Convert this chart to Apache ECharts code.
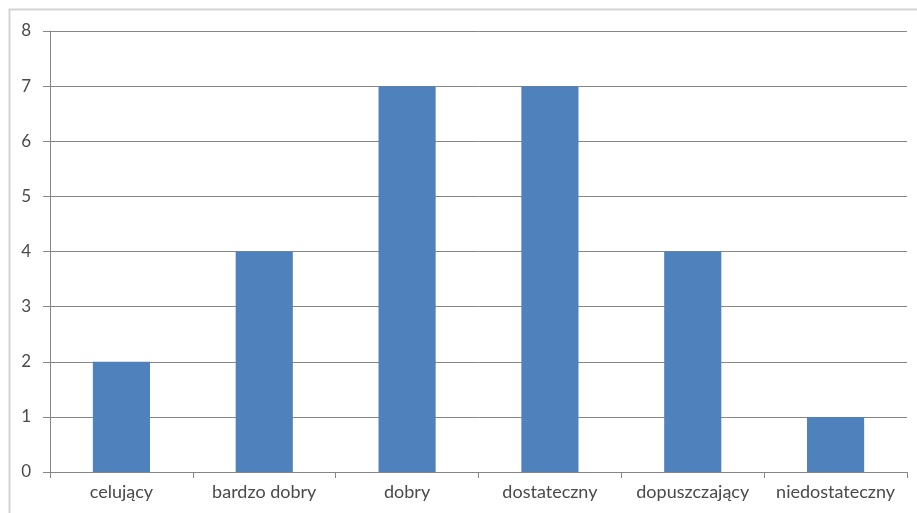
<!DOCTYPE html>
<html><head><meta charset="utf-8">
<script src="https://cdn.jsdelivr.net/npm/echarts@6/dist/echarts.min.js"></script>
<style>html,body{margin:0;padding:0;background:#fff}#c{width:917px;height:513px}</style>
</head><body><div id="c"></div>
<script>
const categories = ['celujący','bardzo dobry','dobry','dostateczny','dopuszczający','niedostateczny'];
const values = [2,4,7,7,4,1];
const yTicks = [0,1,2,3,4,5,6,7,8];

const chart = echarts.init(document.getElementById('c'), null, {renderer:'canvas'});
const font = 'Lato, "Open Sans", sans-serif';
chart.setOption({
  animation:false,
  graphic:[{type:'rect',shape:{x:9.5,y:9.5,width:940,height:540},style:{fill:'none',stroke:'#d4d4d4',lineWidth:2},z:-1}],
  grid:{left:50,right:10,top:31,bottom:41,containLabel:false},
  xAxis:{type:'category',data:categories,
    axisLine:{lineStyle:{color:'#868686',width:1}},
    axisTick:{show:true,length:6,alignWithLabel:false,lineStyle:{color:'#868686'}},
    axisLabel:{color:'#4a4a4a',fontFamily:font,fontSize:18,margin:11,interval:0,hideOverlap:false}},
  yAxis:{type:'value',min:0,max:8,interval:1,
    axisLine:{show:true,lineStyle:{color:'#868686',width:1}},
    axisTick:{show:true,length:7,lineStyle:{color:'#868686'}},
    axisLabel:{color:'#4a4a4a',fontFamily:font,fontSize:17,margin:19,
      formatter:v=>yTicks.includes(v)?String(v):''},
    splitLine:{lineStyle:{color:'#868686',width:1}}},
  series:[{type:'bar',data:values,barCategoryGap:'60%',itemStyle:{color:'#4f81bd'}}]
});
</script></body></html>
